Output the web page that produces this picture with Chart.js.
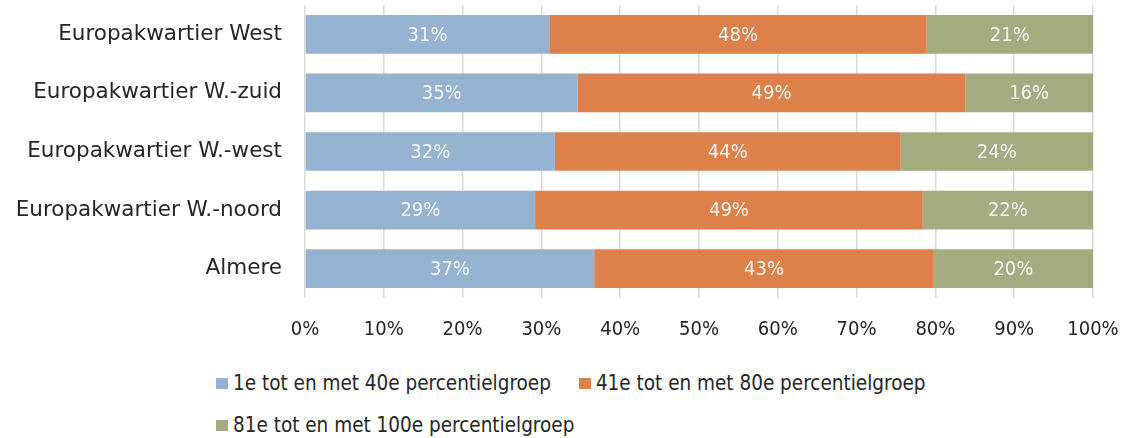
<!DOCTYPE html>
<html>
<head>
<meta charset="utf-8">
<script src="https://cdn.jsdelivr.net/npm/chart.js@4/dist/chart.umd.min.js"></script>
<style>
  body{margin:0;background:#fff;}
  #wrap{position:relative;width:1124px;height:438px;}
  #legend{position:absolute;left:216px;top:368px;width:900px;font-family:'DejaVu Sans Condensed',sans-serif;font-size:20.5px;color:#262626;}
  .item{display:inline-flex;align-items:center;margin-right:28px;height:30px;margin-bottom:12px;}
  .box{width:12px;height:11px;margin-right:5px;}
</style>
</head>
<body>
<div id="wrap">
  <canvas id="incomeChart" width="1124" height="350"></canvas>
  <div id="legend"></div>
</div>
<script>
const areas=['Europakwartier West','Europakwartier W.-zuid','Europakwartier W.-west','Europakwartier W.-noord','Almere'];
const groupLabels=['1e tot en met 40e percentielgroep','41e tot en met 80e percentielgroep','81e tot en met 100e percentielgroep'];
const lowGroup=[31.0,34.6,31.7,29.2,36.7];
const midGroup=[47.9,49.2,43.9,49.2,43.1];
const highGroup=[21.1,16.2,24.4,21.6,20.2];
const groupColors=['#95b3d0','#de8049','#a5ab81'];

const NUM_FONT="'DejaVu Sans Condensed',sans-serif";
const TEXT_FONT="'DejaVu Sans',sans-serif";

// white percentage text in the middle of each segment
const segmentLabels={
    id:'segmentLabels',
    afterDatasetsDraw(chart){
        const ctx=chart.ctx;
        ctx.save();
        ctx.font='20px '+NUM_FONT;
        ctx.fillStyle='#f4f4f4';
        ctx.textAlign='center';
        ctx.textBaseline='middle';
        chart.data.datasets.forEach((ds,i)=>{
            chart.getDatasetMeta(i).data.forEach((bar,j)=>{
                const mid=(bar.x+bar.base)/2;
                ctx.fillText(Math.round(ds.data[j])+'%',mid,bar.y+1);
            });
        });
        ctx.restore();
    }
};

const chart=new Chart(document.getElementById('incomeChart'),{
    type:'bar',
    data:{
        labels:areas,
        datasets:[
            {label:groupLabels[0],data:lowGroup,backgroundColor:groupColors[0]},
            {label:groupLabels[1],data:midGroup,backgroundColor:groupColors[1]},
            {label:groupLabels[2],data:highGroup,backgroundColor:groupColors[2]}
        ]
    },
    options:{
        indexAxis:'y',
        responsive:false,
        animation:false,
        layout:{padding:{top:5,right:31,left:0,bottom:0}},
        datasets:{bar:{categoryPercentage:1,barPercentage:0.66,borderWidth:0}},
        plugins:{legend:{display:false},tooltip:{enabled:false}},
        scales:{
            x:{
                stacked:true,min:0,max:100,
                grid:{color:'#d9d9d9',lineWidth:1.5,drawTicks:false},
                border:{display:false},
                ticks:{stepSize:10,padding:20,color:'#262626',font:{family:NUM_FONT,size:20},callback:v=>v+'%'},
                afterFit(scale){
                    scale.height=52;
                    scale.paddingLeft=0;
                    scale.paddingRight=0;
                }
            },
            y:{
                stacked:true,
                grid:{display:false,drawTicks:false},
                border:{display:false},
                ticks:{padding:23,color:'#262626',font:{family:TEXT_FONT,size:21.5}},
                afterFit(scale){
                    scale.width=305;
                    scale.paddingTop=0;
                    scale.paddingBottom=0;
                }
            }
        }
    },
    plugins:[segmentLabels]
});

// legend below the chart
const legend=document.getElementById('legend');
chart.data.datasets.forEach(ds=>{
    const item=document.createElement('span');
    item.className='item';
    item.innerHTML='<span class="box" style="background:'+ds.backgroundColor+'"></span>'+ds.label;
    legend.appendChild(item);
});
</script>
</body>
</html>
